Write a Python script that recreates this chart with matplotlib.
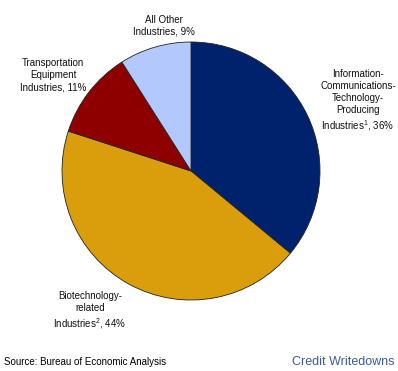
import matplotlib
matplotlib.use("Agg")
import matplotlib.pyplot as plt

plt.rcParams['font.family'] = ['Liberation Sans', 'DejaVu Sans']
plt.rcParams['mathtext.fontset'] = 'custom'
plt.rcParams['mathtext.rm'] = 'Liberation Sans'

categories = ["Information-\nCommunications-\nTechnology-\nProducing\nIndustries$^1$, 36%",
              "Biotechnology-\nrelated\nIndustries$^2$, 44%",
              "Transportation\nEquipment\nIndustries, 11%",
              "All Other\nIndustries, 9%"]
values = [36, 44, 11, 9]
colors = ["#00226C", "#DA9E0C", "#8E0000", "#B3C8FC"]

fig = plt.figure(figsize=(3.98, 3.71), dpi=100)
fig.patch.set_facecolor("white")
ax = fig.add_axes([191/398 - 129/398, 1 - (171 + 129)/371, 258/398, 258/371])
ax.pie(values, colors=colors, startangle=90, counterclock=False,
       wedgeprops=dict(edgecolor="#222222", linewidth=0.6))
ax.set_aspect('equal')
ax.set_xlim(-1, 1)
ax.set_ylim(-1, 1)

label_pos = [(358, 101), (90, 311), (53, 75), (164, 26)]
for lab, (px, py) in zip(categories, label_pos):
    fig.text(px/398, 1 - py/371, lab, ha='center', va='center', fontsize=7,
             color="#111111", linespacing=1.25)

fig.text(4/398, 1 - 362/371, "Source: Bureau of Economic Analysis", ha='left', va='center',
         fontsize=7, color="black")
fig.text(394/398, 1 - 362/371, "Credit Writedowns", ha='right', va='center',
         fontsize=9, color="#3A5D9C")

fig.savefig("out.png", dpi=100)
